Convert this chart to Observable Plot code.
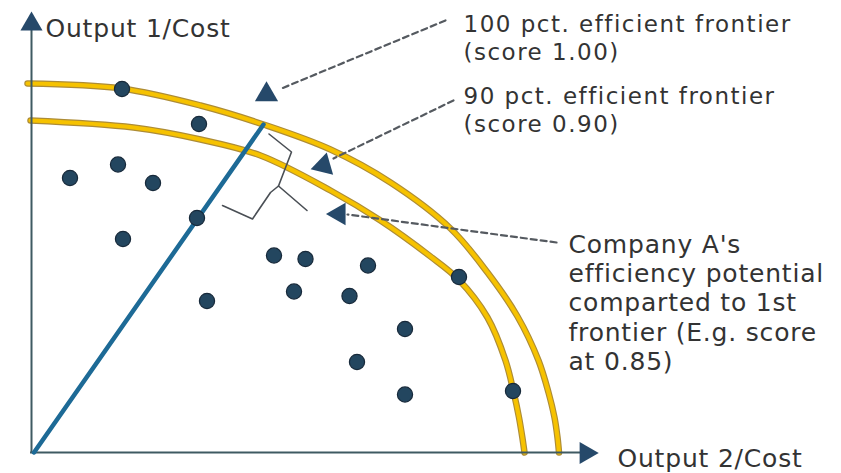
<!DOCTYPE html>
<html><head><meta charset="utf-8">
<script src="https://cdn.jsdelivr.net/npm/d3@7"></script>
<script src="https://cdn.jsdelivr.net/npm/@observablehq/plot@0.6"></script>
<style>html,body{margin:0;padding:0;background:#fff}</style>
</head><body><div id="chart"></div>
<script>
// Companies (Output 2/Cost, Output 1/Cost), arbitrary units
const companyX = [1.81, 3.35, 0.77, 1.73, 2.43, 3.31, 1.83, 4.85, 5.48, 6.73, 3.51, 5.25, 6.36, 8.55, 7.47, 6.51, 7.47, 9.63];
const companyY = [7.27, 6.57, 5.49, 5.76, 5.39, 4.69, 4.27, 3.94, 3.87, 3.74, 3.03, 3.22, 3.13, 3.51, 2.47, 1.81, 1.16, 1.23];

// Ray from the origin through Company A to the 100 pct. frontier
const rayX = [0.05, 4.64];
const rayY = [0, 6.56];

// 100 pct. efficient frontier (score 1.00)
const frontier100X = [-0.08, 1.80, 3.38, 4.64, 5.98, 7.18, 8.38, 9.12, 9.72, 10.14, 10.34, 10.46, 10.52, 10.55];
const frontier100Y = [7.38, 7.28, 6.94, 6.56, 6.06, 5.40, 4.48, 3.60, 2.72, 1.84, 1.20, 0.70, 0.30, 0.00];

// 90 pct. efficient frontier (score 0.90)
const frontier90X = [-0.02, 2.04, 3.38, 4.58, 5.98, 6.98, 7.98, 8.54, 9.12, 9.48, 9.64, 9.75, 9.82, 9.86];
const frontier90Y = [6.64, 6.50, 6.26, 5.94, 5.24, 4.64, 3.92, 3.46, 2.70, 1.84, 1.22, 0.70, 0.28, 0.00];

// Texts
const axisLabels = ["Output 1/Cost", "Output 2/Cost"];
const noteLabels = [
  "100 pct. efficient frontier\n(score 1.00)",
  "90 pct. efficient frontier\n(score 0.90)",
  "Company A's\nefficiency potential\ncomparted to 1st\nfrontier (E.g. score\nat 0.85)"
];

const pts = (xs, ys) => xs.map((x, i) => ({x, y: ys[i]}));
const companies = pts(companyX, companyY);
const f100 = pts(frontier100X, frontier100Y);
const f90 = pts(frontier90X, frontier90Y);
const ray = pts(rayX, rayY);

// annotation geometry (layout)
const dashed = [
  {g: 1, x: 8.28, y: 8.64}, {g: 1, x: 5.00, y: 7.28},
  {g: 2, x: 8.44, y: 7.04}, {g: 2, x: 6.04, y: 5.88},
  {g: 3, x: 10.50, y: 4.20}, {g: 3, x: 6.32, y: 4.76}
];
const bracket = [
  {g: 1, x: 4.75, y: 6.37}, {g: 1, x: 5.20, y: 6.01}, {g: 1, x: 4.94, y: 5.33}, {g: 1, x: 5.51, y: 4.84},
  {g: 2, x: 4.94, y: 5.33}, {g: 2, x: 4.78, y: 5.20}, {g: 2, x: 4.42, y: 4.67}, {g: 2, x: 3.82, y: 4.94}
];
const heads = [
  {x: 0, y: 8.566, rotate: 0, r: 8.2},
  {x: 11.09, y: -0.01, rotate: 90, r: 8.2},
  {x: 4.70, y: 7.16, rotate: 0, r: 8.6},
  {x: 5.84, y: 5.74, rotate: 14, r: 8.6},
  {x: 6.15, y: 4.77, rotate: -90, r: 8.4}
];

const font = "DejaVu Sans, sans-serif";
const gold = "#f6c200", goldEdge = "#ad8c36";

const chart = Plot.plot({
  width: 841,
  height: 473,
  margin: 0,
  x: {domain: [-0.62, 16.2], axis: null},
  y: {domain: [-0.42, 9.04], axis: null},
  r: {type: "identity"},
  style: {background: "#fff", fontFamily: font},
  marks: [
    // frontiers
    Plot.line(f100, {x: "x", y: "y", curve: "catmull-rom", stroke: goldEdge, strokeWidth: 6.5}),
    Plot.line(f100, {x: "x", y: "y", curve: "catmull-rom", stroke: gold, strokeWidth: 4.2}),
    Plot.line(f90, {x: "x", y: "y", curve: "catmull-rom", stroke: goldEdge, strokeWidth: 6.5}),
    Plot.line(f90, {x: "x", y: "y", curve: "catmull-rom", stroke: gold, strokeWidth: 4.2}),
    // axes
    Plot.ruleX([0], {y1: 0, y2: 8.5, stroke: "#3f5a62", strokeWidth: 2}),
    Plot.ruleY([0], {x1: -0.02, x2: 11.0, stroke: "#3f5a62", strokeWidth: 2}),
    // ray to company A
    Plot.line(ray, {x: "x", y: "y", stroke: "#1d6a96", strokeWidth: 4.5}),
    // bracket
    Plot.line(bracket, {x: "x", y: "y", z: "g", stroke: "#4a4f55", strokeWidth: 1.6, strokeLinejoin: "round"}),
    // dashed leaders
    Plot.line(dashed, {x: "x", y: "y", z: "g", stroke: "#555a60", strokeWidth: 2.2, strokeDasharray: "6,4"}),
    // companies
    Plot.dot(companies, {x: "x", y: "y", r: 7.6, fill: "#23465f", stroke: "#17293a", strokeWidth: 1.2}),
    // arrowheads
    Plot.dot(heads, {x: "x", y: "y", r: "r", rotate: "rotate", symbol: "triangle", fill: "#26496a", stroke: "none"}),
    // axis labels
    Plot.text([axisLabels[0]], {x: 0.28, y: 8.32, text: d => d, textAnchor: "start", lineAnchor: "bottom", fontSize: 25, fill: "#333"}),
    Plot.text([axisLabels[1]], {x: 11.72, y: -0.29, text: d => d, textAnchor: "start", lineAnchor: "bottom", fontSize: 25, fill: "#333"}),
    // notes
    Plot.text([noteLabels[0]], {x: 8.64, y: 7.85, text: d => d, textAnchor: "start", lineAnchor: "bottom", lineHeight: 1.23, fontSize: 23, fill: "#333"}),
    Plot.text([noteLabels[1]], {x: 8.64, y: 6.41, text: d => d, textAnchor: "start", lineAnchor: "bottom", lineHeight: 1.23, fontSize: 23, fill: "#333"}),
    Plot.text([noteLabels[2]], {x: 10.74, y: 1.65, text: d => d, textAnchor: "start", lineAnchor: "bottom", lineHeight: 1.175, fontSize: 25, fill: "#333"})
  ]
});
// letter spacing to approximate the wide geometric face of the original
d3.select(chart).selectAll("g[font-size='23']").style("letter-spacing", "1.5px");
d3.select(chart).selectAll("g[font-size='25']").style("letter-spacing", "0.8px");
document.getElementById("chart").appendChild(chart);
</script>
</body></html>
